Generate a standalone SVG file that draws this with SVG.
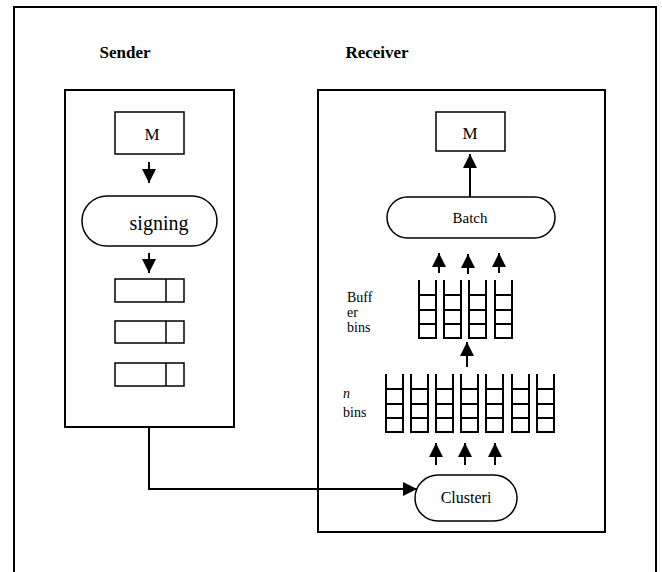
<svg xmlns="http://www.w3.org/2000/svg" width="662" height="572" viewBox="0 0 662 572">
  <defs>
    <style>
      .frame { fill: #fff; stroke: #000; stroke-width: 2; }
      .box { fill: #fff; stroke: #000; stroke-width: 1.5; }
      .line { fill: none; stroke: #000; stroke-width: 2; }
      text { font-family: "Liberation Serif", "DejaVu Serif", "Times New Roman", serif; }
      .title { font-size: 17px; font-weight: bold; text-anchor: middle; }
      .label { font-size: 15px; text-anchor: middle; }
      .small { font-size: 14px; }
    </style>
    <marker id="head" markerUnits="userSpaceOnUse" markerWidth="14" markerHeight="14" refX="14" refY="7" orient="auto">
      <path d="M0,0 L14,7 L0,14 z" fill="#000"/>
    </marker>
    <!-- one bin column: open top, three rungs, closed bottom -->
    <path id="ladder" d="M0,0 V58 H17 V0 M0,15 H17 M0,30 H17 M0,44 H17" fill="none" stroke="#000" stroke-width="2"/>
  </defs>

  <rect x="0" y="0" width="662" height="572" fill="#fff"/>
  <!-- outer frame (bottom edge runs off the page) -->
  <path d="M14,600 V7 H656 V600" class="line"/>

  <text x="125" y="58" class="title">Sender</text>
  <text x="377" y="58" class="title">Receiver</text>

  <g id="sender">
    <rect x="65" y="90" width="169" height="337" class="frame"/>
  </g>
  <g id="receiver">
    <rect x="318" y="90" width="287" height="442" class="frame"/>
  </g>

  <g id="sender-m">
    <rect x="115" y="112" width="69" height="42" class="box"/>
    <text x="152" y="140" class="label" style="font-size:17px">M</text>
  </g>
  <g id="signing">
    <rect x="82" y="196" width="135" height="50" rx="25" ry="25" class="box"/>
    <text x="159" y="230" class="label" style="font-size:20px">signing</text>
  </g>
  <g id="packet-1">
    <rect x="115" y="279" width="69" height="23" class="box"/>
    <line x1="166" y1="279" x2="166" y2="302" stroke="#000" stroke-width="1.5"/>
  </g>
  <g id="packet-2">
    <rect x="115" y="321" width="69" height="22" class="box"/>
    <line x1="166" y1="321" x2="166" y2="343" stroke="#000" stroke-width="1.5"/>
  </g>
  <g id="packet-3">
    <rect x="115" y="363" width="69" height="23" class="box"/>
    <line x1="166" y1="363" x2="166" y2="386" stroke="#000" stroke-width="1.5"/>
  </g>

  <g id="receiver-m">
    <rect x="436" y="112" width="69" height="39" class="box"/>
    <text x="470" y="139" class="label" style="font-size:17px">M</text>
  </g>
  <g id="batch">
    <rect x="387" y="197" width="168" height="41" rx="20.5" ry="20.5" class="box"/>
    <text x="470" y="223" class="label">Batch</text>
  </g>

  <g id="buffer-bins">
    <use href="#ladder" x="419" y="280"/>
    <use href="#ladder" x="444" y="280"/>
    <use href="#ladder" x="469" y="280"/>
    <use href="#ladder" x="495" y="280"/>
    <text x="347" y="302" class="small">Buff</text>
    <text x="347" y="317" class="small">er</text>
    <text x="347" y="332" class="small">bins</text>
  </g>

  <g id="n-bins">
    <use href="#ladder" x="386" y="374"/>
    <use href="#ladder" x="411" y="374"/>
    <use href="#ladder" x="436" y="374"/>
    <use href="#ladder" x="461" y="374"/>
    <use href="#ladder" x="486" y="374"/>
    <use href="#ladder" x="512" y="374"/>
    <use href="#ladder" x="537" y="374"/>
    <text x="343" y="398" class="small" font-style="italic">n</text>
    <text x="343" y="417" class="small">bins</text>
  </g>

  <g id="clustering">
    <rect x="415" y="475" width="102" height="46" rx="23" ry="23" class="box"/>
    <text x="466" y="503" class="label" style="font-size:16px">Clusteri</text>
  </g>

  <g id="connectors" class="line" marker-end="url(#head)">
    <line x1="149" y1="162" x2="149" y2="183"/>
    <line x1="149" y1="253" x2="149" y2="273"/>
    <line x1="470" y1="197" x2="470" y2="154"/>
    <line x1="439" y1="273" x2="439" y2="253"/>
    <line x1="468" y1="274" x2="468" y2="254"/>
    <line x1="499" y1="273" x2="499" y2="253"/>
    <line x1="467" y1="367" x2="467" y2="342"/>
    <line x1="436" y1="465" x2="436" y2="443"/>
    <line x1="465" y1="465" x2="465" y2="443"/>
    <line x1="495" y1="465" x2="495" y2="443"/>
    <path d="M149,427 V489 H417"/>
  </g>
</svg>
